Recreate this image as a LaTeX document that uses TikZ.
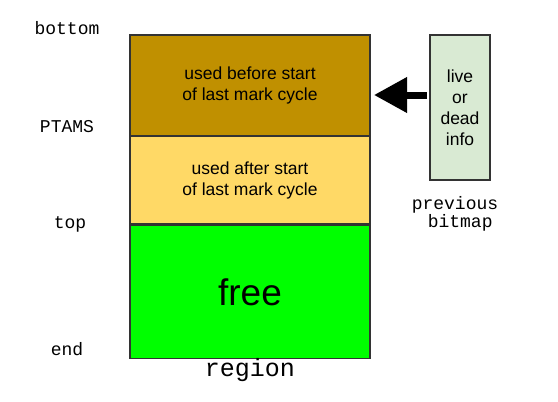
\documentclass[tikz,border=0pt]{standalone}
\usepackage{fontspec}
\setmainfont{Liberation Sans}
\newfontfamily\monofont{Liberation Mono}
\usetikzlibrary{arrows.meta}
\usetikzlibrary{positioning}
\definecolor{c1}{RGB}{192,144,0}
\definecolor{c2}{RGB}{255,217,102}
\definecolor{c3}{RGB}{0,255,0}
\definecolor{c4}{RGB}{217,234,211}
\definecolor{c5}{RGB}{51,51,51}
\tikzset{
  block/.style={rectangle, draw=c5, line width=1.5pt, minimum width=240pt, inner sep=0pt, align=center, font=\fontsize{17.5}{21}\selectfont},
  tag/.style={inner sep=0pt, font=\monofont\fontsize{18}{16}\selectfont, align=center},
  bigarrow/.style={-{Triangle[length=33pt,width=34pt]}, line width=7pt},
}

\begin{document}
\begin{tikzpicture}[x=1pt, y=-1pt]
	\useasboundingbox (0,0) rectangle (558,402);

	\node[block, fill=c1, minimum height=101pt] (used) at (250,85.5) {used before start\\of last mark cycle};
	\node[block, fill=c2, minimum height=88pt] (recent) at (250,180) {used after start\\of last mark cycle};
	\node[block, fill=c3, minimum height=133pt, font=\fontsize{37}{40}\selectfont] (free) at (250,292) {free};

	\node[block, fill=c4, minimum width=60pt, minimum height=145pt] (bitmap) at (460,107.5) {live\\or\\dead\\info};

	\node[tag] (bottom) at (67,28) {bottom};
	\node[tag] (ptams) at (67,127) {PTAMS};
	\node[tag] (top) at (70,224) {top};
	\node[tag] (end) at (67,349) {end};
	\node[tag, font=\monofont\fontsize{25}{26}\selectfont] (region) at (250,370) {region};
	\node[tag, align=left] (prev) at (455,214) {previous\\\hspace*{16pt}bitmap};

	\coordinate (from) at (427,95);
	\coordinate (to) at (374,95);
	\draw[bigarrow] (from) -- (to);

\end{tikzpicture}
\end{document}
